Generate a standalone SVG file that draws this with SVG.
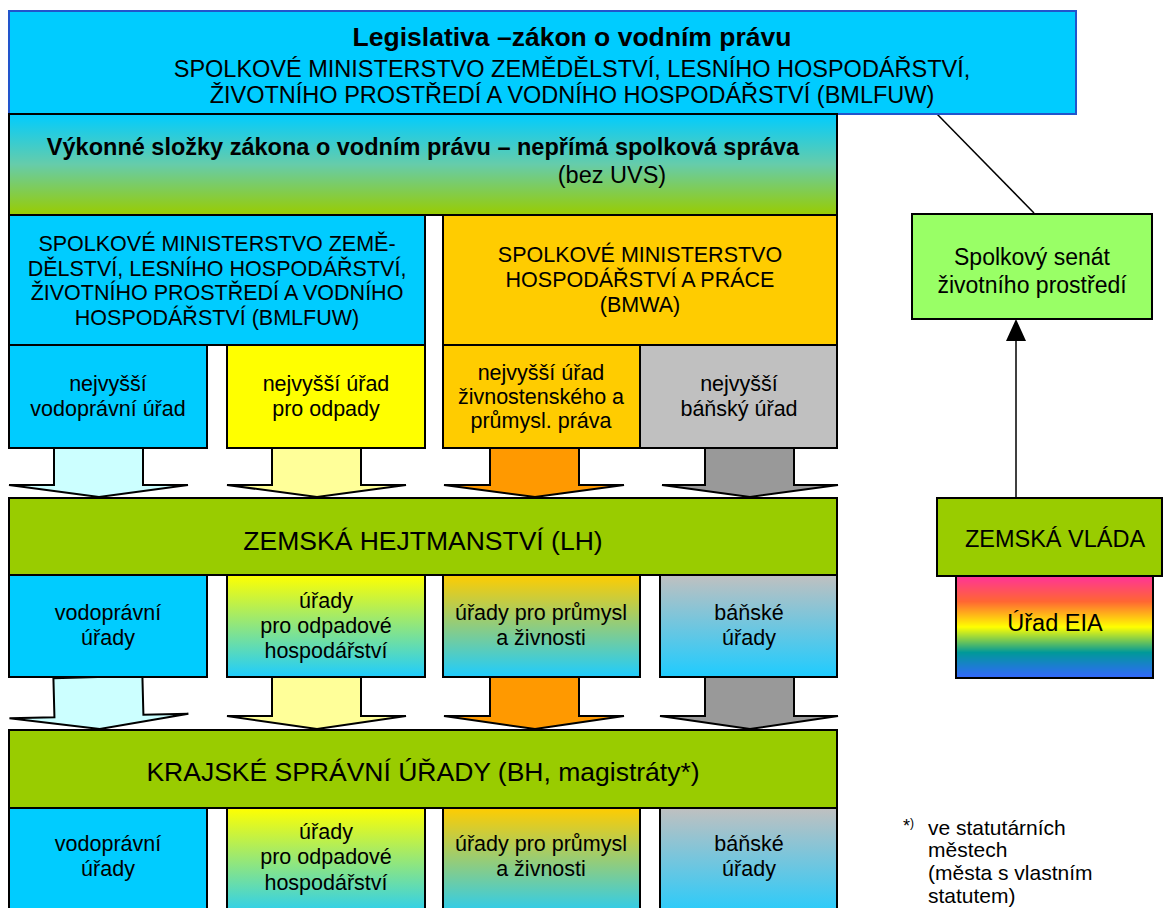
<svg xmlns="http://www.w3.org/2000/svg" width="1164" height="908" viewBox="0 0 1164 908">
<style>
text{font-family:"Liberation Sans",Arial,sans-serif;fill:#000;text-anchor:middle}
text.l{text-anchor:start}
.b{stroke:#000;stroke-width:2}
.t21{font-size:21.5px}
.big{font-size:26.5px}
.cyan{fill:#00CCFF}
.con{stroke:#000;stroke-width:1.5;fill:none}
.arr{stroke:#000;stroke-width:2;stroke-linejoin:miter}
</style>
<defs>
<linearGradient id="gExec" x1="0" y1="0" x2="0" y2="1"><stop offset="0" stop-color="#00CCFF"/><stop offset="0.5" stop-color="#66CCAA"/><stop offset="1" stop-color="#99CC00"/></linearGradient>
<linearGradient id="gYel" x1="0" y1="0" x2="0" y2="1"><stop offset="0" stop-color="#FFFF00"/><stop offset="1" stop-color="#1ECCFF"/></linearGradient>
<linearGradient id="gOra" x1="0" y1="0" x2="0" y2="1"><stop offset="0" stop-color="#FFCC00"/><stop offset="1" stop-color="#1ECCFF"/></linearGradient>
<linearGradient id="gGra" x1="0" y1="0" x2="0" y2="1"><stop offset="0" stop-color="#C0C0C0"/><stop offset="1" stop-color="#1ECCFF"/></linearGradient>
<linearGradient id="gEIA" x1="0" y1="0" x2="0" y2="1"><stop offset="0" stop-color="#FF3399"/><stop offset="0.25" stop-color="#FF6633"/><stop offset="0.5" stop-color="#FFFF00"/><stop offset="0.75" stop-color="#009999"/><stop offset="1" stop-color="#3366FF"/></linearGradient>
</defs>

<g id="connectors">
<line class="con" x1="937" y1="114" x2="1034" y2="213"/>
<line class="con" x1="1016" y1="498" x2="1016" y2="341"/>
<path d="M1016,319 L1006,341 L1026,341 Z" fill="#000"/>
<polygon class="arr" fill="#CCFFFF" points="54,447 143,447 143,485 188,485 99,497 9,485 54,485"/>
<polygon class="arr" fill="#FFFF99" points="272,447 361,447 361,485 406,485 317,497 227,485 272,485"/>
<polygon class="arr" fill="#FF9900" points="490,447 579,447 579,485 624,485 535,497 444,485 490,485"/>
<polygon class="arr" fill="#999999" points="705,447 794,447 794,485 838,485 750,497 662,485 705,485"/>
<polygon class="arr" fill="#CCFFFF" transform="rotate(-1.5 99 700)" points="54,677 143,677 143,716 188,716 99,729 9,716 54,716"/>
<polygon class="arr" fill="#FFFF99" points="272,677 361,677 361,716 406,716 317,729 227,716 272,716"/>
<polygon class="arr" fill="#FF9900" points="490,677 579,677 579,716 624,716 535,729 444,716 490,716"/>
<polygon class="arr" fill="#999999" points="705,677 794,677 794,716 838,716 750,729 660,716 705,716"/>
</g>

<g id="legislativa">
<rect x="9" y="11" width="1067" height="103" fill="#00CCFF" stroke="#2255CC" stroke-width="2"/>
<text x="572" y="46" font-size="26.5" font-weight="bold">Legislativa –zákon o vodním právu</text>
<text x="572" y="77" font-size="23.5">SPOLKOVÉ MINISTERSTVO ZEMĚDĚLSTVÍ, LESNÍHO HOSPODÁŘSTVÍ,</text>
<text x="572" y="103" font-size="23.5">ŽIVOTNÍHO PROSTŘEDÍ A VODNÍHO HOSPODÁŘSTVÍ (BMLFUW)</text>
</g>

<g id="vykonne">
<rect class="b" x="9" y="114" width="828" height="101" fill="url(#gExec)"/>
<text x="423" y="155" font-size="23.5" font-weight="bold">Výkonné složky zákona o vodním právu – nepřímá spolková správa</text>
<text x="612" y="183" font-size="23.5">(bez UVS)</text>
</g>

<g id="bmlfuw">
<rect class="b cyan" x="9" y="215" width="416" height="130"/>
<text class="t21" x="217" y="251">SPOLKOVÉ MINISTERSTVO ZEMĚ-</text>
<text class="t21" x="217" y="276">DĚLSTVÍ, LESNÍHO HOSPODÁŘSTVÍ,</text>
<text class="t21" x="217" y="300">ŽIVOTNÍHO PROSTŘEDÍ A VODNÍHO</text>
<text class="t21" x="217" y="325">HOSPODÁŘSTVÍ (BMLFUW)</text>
</g>

<g id="bmwa">
<rect class="b" x="443" y="215" width="394" height="130" fill="#FFCC00"/>
<text class="t21" x="640" y="262">SPOLKOVÉ MINISTERSTVO</text>
<text class="t21" x="640" y="287">HOSPODÁŘSTVÍ A PRÁCE</text>
<text class="t21" x="640" y="312">(BMWA)</text>
</g>

<g id="r1-voda">
<rect class="b cyan" x="9" y="345" width="198" height="103"/>
<text class="t21" x="108" y="391">nejvyšší</text>
<text class="t21" x="108" y="416">vodoprávní úřad</text>
</g>
<g id="r1-odpady">
<rect class="b" x="227" y="345" width="198" height="103" fill="#FFFF00"/>
<text class="t21" x="326" y="391">nejvyšší úřad</text>
<text class="t21" x="326" y="416">pro odpady</text>
</g>
<g id="r1-zivnost">
<rect class="b" x="443" y="345" width="197" height="103" fill="#FFCC00"/>
<text class="t21" x="541" y="380">nejvyšší úřad</text>
<text class="t21" x="541" y="404">živnostenského a</text>
<text class="t21" x="541" y="428">průmysl. práva</text>
</g>
<g id="r1-banske">
<rect class="b" x="640" y="345" width="197" height="103" fill="#C0C0C0"/>
<text class="t21" x="739" y="391">nejvyšší</text>
<text class="t21" x="739" y="416">báňský úřad</text>
</g>

<g id="zemska-hejtmanstvi">
<rect class="b" x="9" y="498" width="828" height="77" fill="#99CC00"/>
<text class="big" x="423" y="550">ZEMSKÁ HEJTMANSTVÍ (LH)</text>
</g>

<g id="r2-voda">
<rect class="b cyan" x="9" y="575" width="198" height="102"/>
<text class="t21" x="108" y="620">vodoprávní</text>
<text class="t21" x="108" y="645">úřady</text>
</g>
<g id="r2-odpady">
<rect class="b" x="227" y="575" width="198" height="102" fill="url(#gYel)"/>
<text class="t21" x="326" y="608">úřady</text>
<text class="t21" x="326" y="633">pro odpadové</text>
<text class="t21" x="326" y="658">hospodářství</text>
</g>
<g id="r2-zivnost">
<rect class="b" x="443" y="575" width="197" height="102" fill="url(#gOra)"/>
<text class="t21" x="541" y="620">úřady pro průmysl</text>
<text class="t21" x="541" y="645">a živnosti</text>
</g>
<g id="r2-banske">
<rect class="b" x="660" y="575" width="177" height="102" fill="url(#gGra)"/>
<text class="t21" x="749" y="620">báňské</text>
<text class="t21" x="749" y="645">úřady</text>
</g>

<g id="krajske">
<rect class="b" x="9" y="730" width="828" height="78" fill="#99CC00"/>
<text class="big" x="423" y="781">KRAJSKÉ SPRÁVNÍ ÚŘADY (BH, magistráty*)</text>
</g>

<g id="r3-voda">
<rect class="b cyan" x="9" y="808" width="198" height="112"/>
<text class="t21" x="108" y="851">vodoprávní</text>
<text class="t21" x="108" y="876">úřady</text>
</g>
<g id="r3-odpady">
<rect class="b" x="227" y="808" width="198" height="112" fill="url(#gYel)"/>
<text class="t21" x="326" y="839">úřady</text>
<text class="t21" x="326" y="864">pro odpadové</text>
<text class="t21" x="326" y="890">hospodářství</text>
</g>
<g id="r3-zivnost">
<rect class="b" x="443" y="808" width="197" height="112" fill="url(#gOra)"/>
<text class="t21" x="541" y="851">úřady pro průmysl</text>
<text class="t21" x="541" y="876">a živnosti</text>
</g>
<g id="r3-banske">
<rect class="b" x="660" y="808" width="177" height="112" fill="url(#gGra)"/>
<text class="t21" x="749" y="851">báňské</text>
<text class="t21" x="749" y="876">úřady</text>
</g>

<g id="senat">
<rect class="b" x="912" y="214" width="240" height="105" fill="#99FF66"/>
<text x="1032" y="265" font-size="23">Spolkový senát</text>
<text x="1032" y="293" font-size="23">životního prostředí</text>
</g>

<g id="zemska-vlada">
<rect class="b" x="937" y="498" width="225" height="78" fill="#99CC00"/>
<text x="1055" y="547" font-size="23.5">ZEMSKÁ VLÁDA</text>
</g>

<g id="eia">
<rect class="b" x="956" y="576" width="197" height="102" fill="url(#gEIA)"/>
<text x="1055" y="631" font-size="23.5">Úřad EIA</text>
</g>

<g id="footnote">
<text class="l" x="903" y="832" font-size="18">*<tspan font-size="12" dy="-5">)</tspan></text>
<text class="l" x="928" y="835" font-size="21">ve statutárních</text>
<text class="l" x="928" y="857" font-size="21">městech</text>
<text class="l" x="928" y="880" font-size="21">(města s vlastním</text>
<text class="l" x="928" y="903" font-size="21">statutem)</text>
</g>
</svg>
